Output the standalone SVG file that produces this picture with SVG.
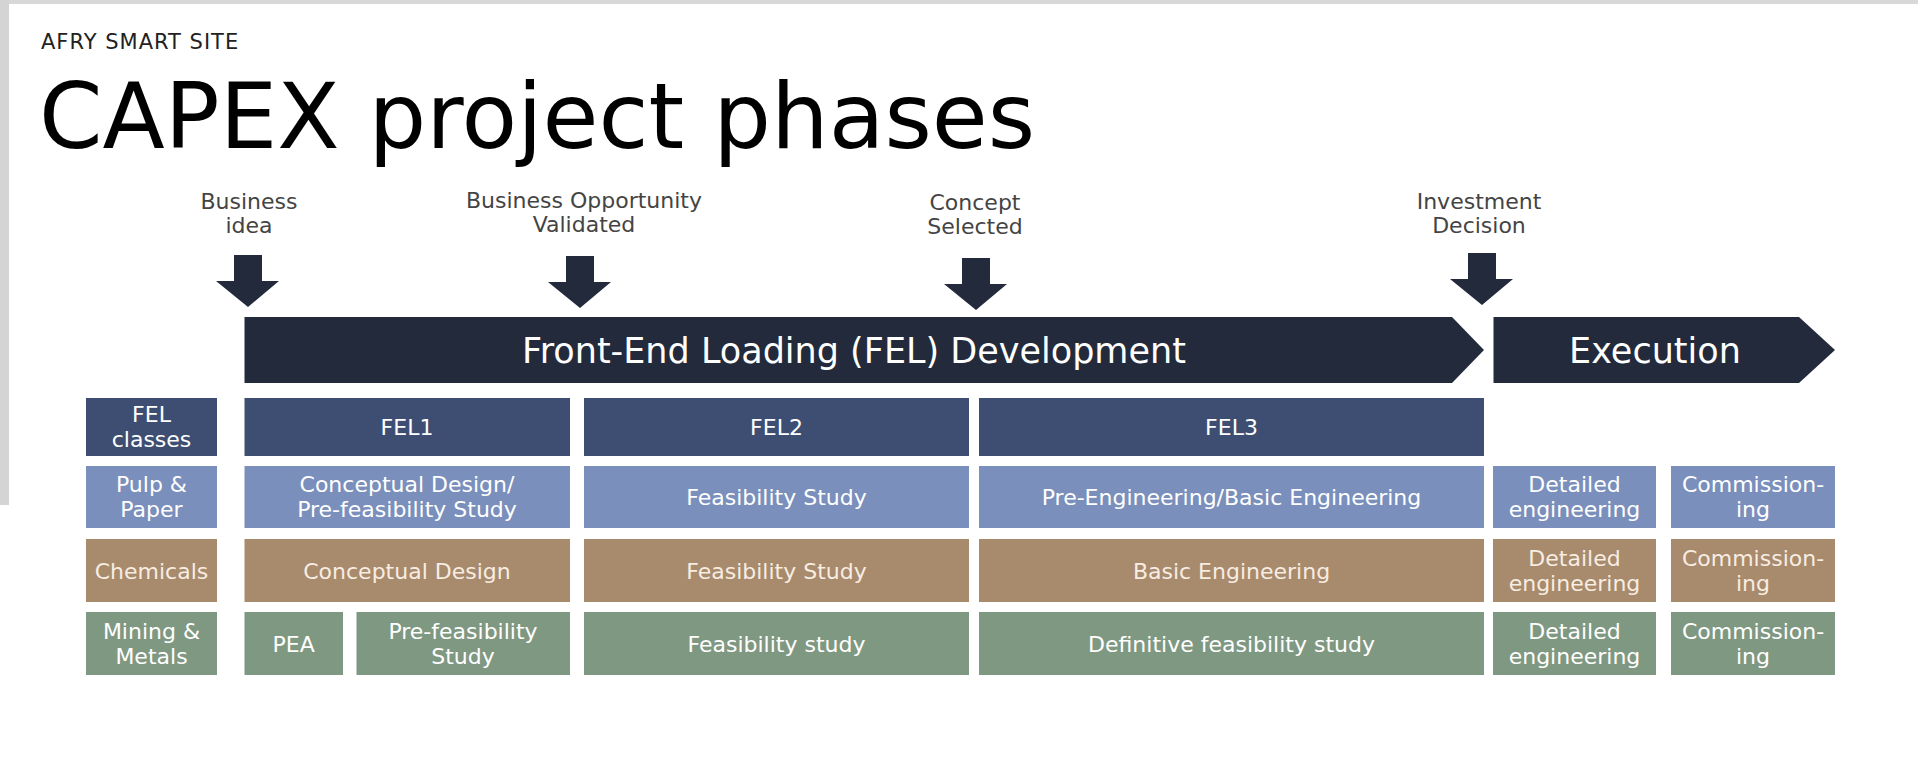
<svg xmlns="http://www.w3.org/2000/svg" width="1918" height="774" viewBox="0 0 1918 774">
<style>
text{font-family:"DejaVu Sans","Verdana",sans-serif;}
.ms{font-size:22px;fill:#444;text-anchor:middle;}
.arrow{fill:#222a3c;}
.bar{fill:#222a3c;}
.bart{font-size:35px;fill:#fff;text-anchor:middle;}
.t{font-size:22px;fill:#fff;text-anchor:middle;}
.tc{font-size:22px;fill:#f7ede2;text-anchor:middle;}
.fel{fill:#3e4e72;}
.pulp{fill:#7a8fbb;}
.chem{fill:#a88a6c;}
.mine{fill:#7f9882;}
</style>
<rect width="1918" height="774" fill="#fff"/>
<rect x="0" y="0" width="1918" height="4" fill="#d8d8d8"/>
<rect x="0" y="0" width="9" height="505" fill="#d4d4d4"/>

<g id="header">
<text x="41" y="49" style="font-size:21px;letter-spacing:1px;fill:#222">AFRY SMART SITE</text>
<text x="39" y="148" style="font-size:91px;fill:#000">CAPEX project phases</text>
</g>

<g id="milestone-business-idea">
<text class="ms" x="249" y="209">Business</text>
<text class="ms" x="249" y="233">idea</text>
<path class="arrow" d="M234,255 H262 V281 H279 L248,307 L216,281 H234 Z"/>
</g>
<g id="milestone-opportunity">
<text class="ms" x="584" y="208">Business Opportunity</text>
<text class="ms" x="584" y="232">Validated</text>
<path class="arrow" d="M566,256 H594 V282 H611 L580,308 L548,282 H566 Z"/>
</g>
<g id="milestone-concept">
<text class="ms" x="975" y="210">Concept</text>
<text class="ms" x="975" y="234">Selected</text>
<path class="arrow" d="M962,258 H990 V284 H1007 L976,310 L944,284 H962 Z"/>
</g>
<g id="milestone-investment">
<text class="ms" x="1479" y="209">Investment</text>
<text class="ms" x="1479" y="233">Decision</text>
<path class="arrow" d="M1468,253 H1496 V279 H1513 L1482,305 L1450,279 H1468 Z"/>
</g>

<g id="bar-fel">
<polygon class="bar" points="244.5,317 1452,317 1484,350 1452,383 244.5,383"/>
<text class="bart" x="854" y="363">Front-End Loading (FEL) Development</text>
</g>
<g id="bar-execution">
<polygon class="bar" points="1493.5,317 1799,317 1835,350 1799,383 1493.5,383"/>
<text class="bart" x="1655" y="363">Execution</text>
</g>

<g id="connectors"></g>

<!-- FEL classes row -->
<g id="row-fel">
<rect class="fel" x="86" y="398" width="131" height="58"/>
<text class="t" x="151.5" y="422">FEL</text>
<text class="t" x="151.5" y="447">classes</text>
<rect class="fel" x="244.5" y="398" width="325.5" height="58"/>
<text class="t" x="407" y="435">FEL1</text>
<rect class="fel" x="584" y="398" width="385" height="58"/>
<text class="t" x="776.5" y="435">FEL2</text>
<rect class="fel" x="979" y="398" width="505" height="58"/>
<text class="t" x="1231.5" y="435">FEL3</text>
</g>

<!-- Pulp & Paper -->
<g id="row-pulp">
<rect class="pulp" x="86" y="466" width="131" height="62"/>
<text class="t" x="151.5" y="492">Pulp &amp;</text>
<text class="t" x="151.5" y="517">Paper</text>
<rect class="pulp" x="244.5" y="466" width="325.5" height="62"/>
<text class="t" x="407" y="492">Conceptual Design/</text>
<text class="t" x="407" y="517">Pre-feasibility Study</text>
<rect class="pulp" x="584" y="466" width="385" height="62"/>
<text class="t" x="776.5" y="505">Feasibility Study</text>
<rect class="pulp" x="979" y="466" width="505" height="62"/>
<text class="t" x="1231.5" y="505">Pre-Engineering/Basic Engineering</text>
<rect class="pulp" x="1493" y="466" width="163" height="62"/>
<text class="t" x="1574.5" y="492">Detailed</text>
<text class="t" x="1574.5" y="517">engineering</text>
<rect class="pulp" x="1671" y="466" width="164" height="62"/>
<text class="t" x="1753" y="492">Commission-</text>
<text class="t" x="1753" y="517">ing</text>
</g>

<!-- Chemicals -->
<g id="row-chemicals">
<rect class="chem" x="86" y="539" width="131" height="63"/>
<text class="tc" x="151.5" y="578.5">Chemicals</text>
<rect class="chem" x="244.5" y="539" width="325.5" height="63"/>
<text class="tc" x="407" y="578.5">Conceptual Design</text>
<rect class="chem" x="584" y="539" width="385" height="63"/>
<text class="tc" x="776.5" y="578.5">Feasibility Study</text>
<rect class="chem" x="979" y="539" width="505" height="63"/>
<text class="tc" x="1231.5" y="578.5">Basic Engineering</text>
<rect class="chem" x="1493" y="539" width="163" height="63"/>
<text class="tc" x="1574.5" y="565.5">Detailed</text>
<text class="tc" x="1574.5" y="590.5">engineering</text>
<rect class="chem" x="1671" y="539" width="164" height="63"/>
<text class="tc" x="1753" y="565.5">Commission-</text>
<text class="tc" x="1753" y="590.5">ing</text>
</g>

<!-- Mining & Metals -->
<g id="row-mining">
<rect class="mine" x="86" y="612" width="131" height="63"/>
<text class="t" x="151.5" y="638.5">Mining &amp;</text>
<text class="t" x="151.5" y="663.5">Metals</text>
<rect class="mine" x="244.5" y="612" width="98.5" height="63"/>
<text class="t" x="293.7" y="651.5">PEA</text>
<rect class="mine" x="356.5" y="612" width="213.5" height="63"/>
<text class="t" x="463" y="638.5">Pre-feasibility</text>
<text class="t" x="463" y="663.5">Study</text>
<rect class="mine" x="584" y="612" width="385" height="63"/>
<text class="t" x="776.5" y="651.5">Feasibility study</text>
<rect class="mine" x="979" y="612" width="505" height="63"/>
<text class="t" x="1231.5" y="651.5">Definitive feasibility study</text>
<rect class="mine" x="1493" y="612" width="163" height="63"/>
<text class="t" x="1574.5" y="638.5">Detailed</text>
<text class="t" x="1574.5" y="663.5">engineering</text>
<rect class="mine" x="1671" y="612" width="164" height="63"/>
<text class="t" x="1753" y="638.5">Commission-</text>
<text class="t" x="1753" y="663.5">ing</text>
</g>
</svg>
